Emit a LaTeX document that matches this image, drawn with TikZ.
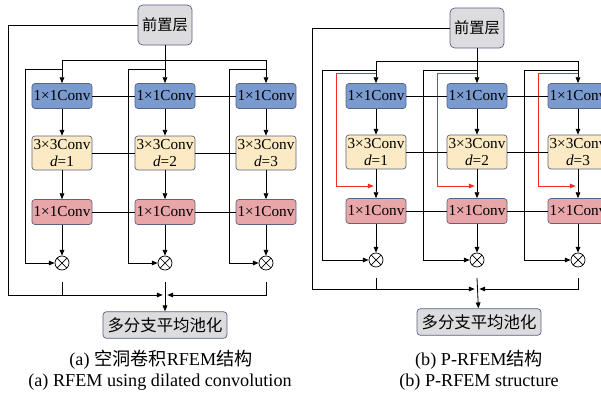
\documentclass[tikz,border=0pt]{standalone}
\usepackage{fontspec}
\setmainfont{Liberation Serif}
\newfontfamily\cjk{Noto Sans CJK SC}
\usetikzlibrary{arrows.meta}

\definecolor{convblue}{RGB}{122,155,208}
\definecolor{convyellow}{RGB}{252,234,196}
\definecolor{convpink}{RGB}{232,166,168}
\definecolor{boxgray}{RGB}{220,220,222}
\definecolor{boxline}{RGB}{90,100,130}
\definecolor{tapred}{RGB}{238,45,35}

\tikzset{
    box/.style={draw=boxline, line width=0.6pt, rounded corners=2.5pt, minimum width=1.8cm, minimum height=0.75cm, inner sep=0pt, font=\fontsize{13}{14}\selectfont},
    convin/.style={box, fill=convblue},
    convmid/.style={box, fill=convyellow, minimum height=1.02cm, align=center},
    convout/.style={box, fill=convpink},
    prebox/.style={box, fill=boxgray, minimum width=1.62cm, minimum height=1.2cm, rounded corners=4pt, font=\cjk\fontsize{13}{14}\selectfont},
    poolbox/.style={box, fill=boxgray, minimum width=3.72cm, minimum height=0.8cm, rounded corners=3pt, font=\cjk\fontsize{14}{15}\selectfont},
    mult/.style={circle, draw, line width=0.6pt, inner sep=0pt, minimum size=0.42cm,
        path picture={\draw[line width=0.6pt] (path picture bounding box.north west) -- (path picture bounding box.south east)
            (path picture bounding box.north east) -- (path picture bounding box.south west);}},
    captext/.style={font=\fontsize{15.5}{17}\selectfont},
    redtap/.style={draw=tapred, line width=0.6pt},
}

\begin{document}
\begin{tikzpicture}[x=0.03cm, y=-0.03cm, line width=0.7pt, >={Triangle[length=5pt,width=4pt]}]
    \useasboundingbox (0,0) rectangle (601,396);
    \clip (0,0) rectangle (601,396);

    % (a) dilated RFEM
    \node[prebox] (atop) at (165,25) {前置层};
    \node[poolbox] (apool) at (165,325) {多分支平均池化};
    \foreach \i/\cx in {1/62,2/165,3/266} {
        \node[convin] (aone\i) at (\cx,96) {1×1Conv};
        \node[convmid] (athree\i) at (\cx,153) {3×3Conv\\\textit{d}=\i};
        \node[convout] (aout\i) at (\cx,212) {1×1Conv};
        \node[mult] (amul\i) at (\cx,263) {};
        \coordinate (abus\i) at (\cx,60);
        \coordinate (atap\i) at (\cx,69);
        \coordinate (aleft\i) at (\cx-37,69);
        \coordinate (astub\i) at (\cx,282);
        \draw[->] (abus\i) -- (aone\i);
        \draw (atap\i) -- (aleft\i);
        \draw[->] (aleft\i) |- (amul\i);
        \draw[->] (aone\i) -- (athree\i);
        \draw[->] (athree\i) -- (aout\i);
        \draw[->] (aout\i) -- (amul\i);
    }
    \draw (atop.south) -- (abus2);
    \draw (abus1) -- (abus3);
    \draw (aone1) -- (aone2) (aone2) -- (aone3);
    \draw (athree1) -- (athree2) (athree2) -- (athree3);
    \draw (aout1) -- (aout2) (aout2) -- (aout3);
    \coordinate (acorner) at (8,295);
    \coordinate (ajoin) at (165,295);
    \draw (atop.west) -| (acorner);
    \draw[->, shorten >=2pt] (acorner) -- (ajoin);
    \draw (astub1) -- (astub1 |- acorner);
    \draw[->, shorten >=2pt] (astub3) |- (ajoin);
    \draw[->] (astub2) -- (apool);
    \node[captext] (acapcn) at (161,360) {(a) {\cjk 空洞卷积}RFEM{\cjk 结构}};
    \node[captext] (acapen) at (160,382) {(a) RFEM using dilated convolution};

    % (b) P-RFEM
    \node[prebox] (btop) at (477,28) {前置层};
    \node[poolbox] (bpool) at (479,322) {多分支平均池化};
    \foreach \i/\cx in {1/376,2/477,3/578} {
        \node[convin] (bone\i) at (\cx,96) {1×1Conv};
        \node[convmid] (bthree\i) at (\cx,152) {3×3Conv\\\textit{d}=\i};
        \node[convout] (bout\i) at (\cx,211) {1×1Conv};
        \node[mult] (bmul\i) at (\cx,260) {};
        \coordinate (bbus\i) at (\cx,61);
        \coordinate (btap\i) at (\cx,70);
        \coordinate (bleft\i) at (\cx-54,70);
        \coordinate (brtap\i) at (\cx,73);
        \coordinate (bred\i) at (\cx-40,73);
        \coordinate (bredend\i) at (\cx,186);
        \coordinate (bstub\i) at (\cx,278);
        \draw[->] (bbus\i) -- (bone\i);
        \draw (btap\i) -- (bleft\i);
        \draw[->] (bleft\i) |- (bmul\i);
        \draw[redtap] (brtap\i) -- (bred\i);
        \draw[redtap, ->, >={Triangle[length=5pt,width=4pt]}, shorten >=2pt] (bred\i) |- (bredend\i);
        \draw[->] (bone\i) -- (bthree\i);
        \draw[->] (bthree\i) -- (bout\i);
        \draw[->] (bout\i) -- (bmul\i);
    }
    \draw (btop.south) -- (bbus2);
    \draw (bbus1) -- (bbus3);
    \draw (bone1) -- (bone2) (bone2) -- (bone3);
    \draw (bthree1) -- (bthree2) (bthree2) -- (bthree3);
    \draw (bout1) -- (bout2) (bout2) -- (bout3);
    \coordinate (bcorner) at (312,289);
    \coordinate (bjoin) at (477,289);
    \draw (btop.west) -| (bcorner);
    \draw[->, shorten >=2pt] (bcorner) -- (bjoin);
    \draw (bstub1) -- (bstub1 |- bcorner);
    \draw[->, shorten >=2pt] (bstub3) |- (bjoin);
    \draw[->] (bstub2) -- (bpool);
    \node[captext] (bcapcn) at (479,360) {(b) P-RFEM{\cjk 结构}};
    \node[captext] (bcapen) at (479,382) {(b) P-RFEM structure};
\end{tikzpicture}
\end{document}
